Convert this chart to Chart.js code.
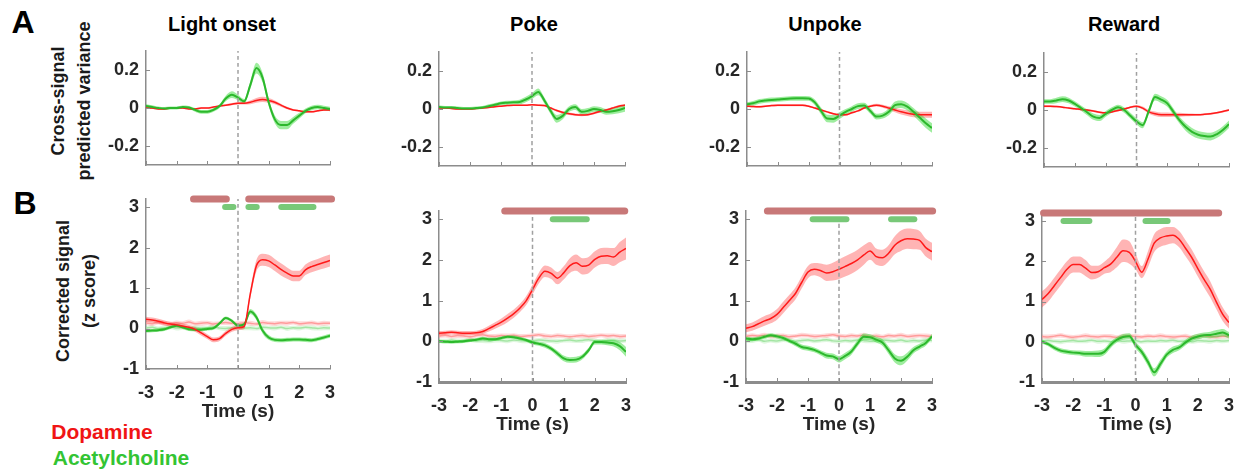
<!DOCTYPE html>
<html>
<head>
<meta charset="utf-8">
<script src="https://cdn.jsdelivr.net/npm/chart.js@4/dist/chart.umd.min.js"></script>
<style>
  body { margin: 0; background: #fff; width: 1244px; height: 470px; position: relative; overflow: hidden;
         font-family: "Liberation Sans", Arial, sans-serif; font-weight: bold; }
  canvas { position: absolute; }
  .lbl { position: absolute; white-space: nowrap; transform: translate(-50%, -50%); line-height: 1; }
  .ylab { position: absolute; white-space: nowrap; text-align: center; font-size: 18px; line-height: 26px;
          color: #1a1a1a; transform: translate(-50%, -50%) rotate(-90deg); }
</style>
</head>
<body>
<div class="lbl" style="left:23px;top:22px;font-size:32px">A</div>
<div class="lbl" style="left:25px;top:203px;font-size:32px">B</div>
<div class="lbl" style="left:222px;top:24px;font-size:20px">Light onset</div>
<div class="lbl" style="left:534px;top:24px;font-size:20px">Poke</div>
<div class="lbl" style="left:825px;top:24px;font-size:20px">Unpoke</div>
<div class="lbl" style="left:1124px;top:24px;font-size:20px">Reward</div>
<div class="ylab" style="left:71px;top:101px">Cross-signal<br>predicted variance</div>
<div class="ylab" style="left:76px;top:291px">Corrected signal<br>(z score)</div>
<div class="lbl" style="left:102px;top:431px;font-size:21px;color:#f01414">Dopamine</div>
<div class="lbl" style="left:121px;top:457px;font-size:21px;color:#33c433">Acetylcholine</div>

<script>
// time base (s), shared by every trace
const times = [-3, -2.8, -2.6, -2.4, -2.2, -2, -1.8, -1.6, -1.4, -1.2, -1, -0.8, -0.6, -0.4, -0.2, 0,
               0.2, 0.4, 0.6, 0.8, 1, 1.2, 1.4, 1.6, 1.8, 2, 2.2, 2.4, 2.6, 2.8, 3];

const timeTicks = [-3, -2, -1, 0, 1, 2, 3];
const varTicks = [-0.2, 0, 0.2];
const zTicks = [-1, 0, 1, 2, 3];

// row A: cross-signal predicted variance
const lightDaVar   = [0, 0, -0.005, -0.005, 0, 0, 0, -0.005, -0.005, 0, 0, 0.005, 0.01, 0.015, 0.02, 0.025, 0.025, 0.03, 0.04, 0.045, 0.04, 0.03, 0.015, 0, -0.01, -0.015, -0.02, -0.02, -0.015, -0.01, -0.01];
const lightDaVarSem = [0.004, 0.004, 0.004, 0.004, 0.004, 0.004, 0.004, 0.004, 0.004, 0.004, 0.004, 0.004, 0.005, 0.005, 0.006, 0.006, 0.007, 0.01, 0.013, 0.014, 0.013, 0.01, 0.008, 0.006, 0.005, 0.005, 0.005, 0.005, 0.005, 0.005, 0.005];
const lightAchVar  = [0.01, 0.005, 0, -0.003, 0, 0, 0.005, 0.003, -0.01, -0.02, -0.02, -0.01, 0.01, 0.05, 0.07, 0.055, 0.035, 0.12, 0.21, 0.16, 0.03, -0.06, -0.09, -0.09, -0.065, -0.04, -0.015, 0, 0.005, 0, -0.005];
const lightAchVarSem = [0.01, 0.01, 0.008, 0.008, 0.008, 0.008, 0.008, 0.008, 0.01, 0.01, 0.01, 0.01, 0.01, 0.015, 0.018, 0.015, 0.012, 0.02, 0.028, 0.025, 0.02, 0.02, 0.022, 0.022, 0.018, 0.015, 0.012, 0.012, 0.012, 0.012, 0.012];

const pokeDaVar    = [0.005, 0.005, 0.003, 0, 0, 0, 0.003, 0.005, 0.008, 0.012, 0.015, 0.018, 0.02, 0.02, 0.02, 0.022, 0.02, 0.018, 0.005, -0.008, -0.018, -0.025, -0.03, -0.032, -0.03, -0.022, -0.012, -0.005, 0.005, 0.015, 0.02];
const pokeDaVarSem = [0.004, 0.004, 0.004, 0.004, 0.004, 0.004, 0.004, 0.004, 0.004, 0.004, 0.004, 0.004, 0.004, 0.004, 0.004, 0.004, 0.004, 0.005, 0.005, 0.006, 0.006, 0.006, 0.006, 0.006, 0.006, 0.006, 0.006, 0.006, 0.006, 0.006, 0.006];
const pokeAchVar   = [0.01, 0.008, 0.008, 0.005, 0.003, 0.003, 0.005, 0.008, 0.015, 0.022, 0.03, 0.033, 0.035, 0.037, 0.05, 0.068, 0.09, 0.045, -0.01, -0.052, -0.035, 0, 0.01, -0.015, -0.01, 0, -0.005, -0.015, -0.012, -0.005, 0.005];
const pokeAchVarSem = [0.008, 0.008, 0.008, 0.008, 0.008, 0.008, 0.008, 0.008, 0.01, 0.01, 0.01, 0.01, 0.01, 0.012, 0.014, 0.016, 0.018, 0.016, 0.016, 0.02, 0.018, 0.015, 0.015, 0.015, 0.015, 0.015, 0.015, 0.015, 0.015, 0.018, 0.02];

const unpokeDaVar  = [0.015, 0.013, 0.012, 0.015, 0.018, 0.02, 0.02, 0.02, 0.02, 0.02, 0.015, 0.005, -0.005, -0.015, -0.025, -0.03, -0.03, -0.02, -0.01, 0.005, 0.015, 0.02, 0.015, 0.005, -0.005, -0.015, -0.022, -0.028, -0.03, -0.03, -0.03];
const unpokeDaVarSem = [0.005, 0.005, 0.005, 0.005, 0.005, 0.005, 0.005, 0.005, 0.005, 0.005, 0.005, 0.005, 0.005, 0.005, 0.005, 0.005, 0.005, 0.005, 0.005, 0.005, 0.006, 0.007, 0.008, 0.01, 0.012, 0.014, 0.015, 0.016, 0.016, 0.016, 0.016];
const unpokeAchVar = [0.025, 0.03, 0.04, 0.045, 0.048, 0.05, 0.053, 0.055, 0.056, 0.056, 0.055, 0.035, -0.01, -0.05, -0.052, -0.035, -0.015, 0, 0.015, 0.018, -0.01, -0.04, -0.035, -0.015, 0.02, 0.025, 0.012, -0.015, -0.045, -0.075, -0.1];
const unpokeAchVarSem = [0.01, 0.012, 0.012, 0.012, 0.012, 0.012, 0.012, 0.012, 0.012, 0.012, 0.012, 0.015, 0.018, 0.02, 0.02, 0.018, 0.015, 0.015, 0.015, 0.015, 0.015, 0.015, 0.015, 0.018, 0.02, 0.02, 0.02, 0.02, 0.022, 0.025, 0.025];

const rewardDaVar  = [0.02, 0.02, 0.018, 0.015, 0.01, 0.007, 0.003, 0, -0.005, -0.012, -0.015, -0.01, -0.003, 0.005, 0.015, 0.02, 0.01, -0.01, -0.02, -0.025, -0.025, -0.025, -0.025, -0.025, -0.025, -0.025, -0.023, -0.02, -0.015, -0.008, 0];
const rewardDaVarSem = [0.005, 0.005, 0.005, 0.005, 0.005, 0.005, 0.005, 0.005, 0.005, 0.005, 0.005, 0.005, 0.005, 0.005, 0.005, 0.005, 0.008, 0.01, 0.012, 0.012, 0.012, 0.01, 0.01, 0.008, 0.006, 0.005, 0.005, 0.005, 0.005, 0.005, 0.005];
const rewardAchVar = [0.045, 0.045, 0.05, 0.057, 0.05, 0.032, 0.01, -0.012, -0.035, -0.042, -0.02, 0, 0.014, 0, -0.03, -0.06, -0.08, -0.005, 0.068, 0.055, 0.035, -0.01, -0.055, -0.09, -0.115, -0.13, -0.137, -0.14, -0.128, -0.105, -0.075];
const rewardAchVarSem = [0.012, 0.012, 0.014, 0.015, 0.015, 0.014, 0.014, 0.015, 0.016, 0.016, 0.015, 0.014, 0.014, 0.014, 0.015, 0.016, 0.016, 0.016, 0.018, 0.018, 0.018, 0.018, 0.018, 0.02, 0.02, 0.02, 0.02, 0.02, 0.02, 0.02, 0.02];

// row B: corrected signal (z score)
const lightDa    = [0.23, 0.21, 0.18, 0.14, 0.11, 0.09, 0.06, 0.03, -0.02, -0.11, -0.2, -0.28, -0.25, -0.12, -0.02, 0.02, 0.05, 0.85, 1.55, 1.7, 1.67, 1.57, 1.46, 1.37, 1.3, 1.3, 1.45, 1.53, 1.58, 1.63, 1.68];
const lightDaSem = [0.06, 0.06, 0.06, 0.06, 0.06, 0.06, 0.06, 0.06, 0.06, 0.06, 0.06, 0.06, 0.06, 0.06, 0.06, 0.06, 0.07, 0.1, 0.14, 0.15, 0.15, 0.15, 0.15, 0.14, 0.13, 0.13, 0.13, 0.14, 0.14, 0.15, 0.15];
const lightAch   = [-0.06, -0.05, -0.04, -0.02, 0.03, 0.07, 0.03, -0.02, -0.03, -0.03, -0.01, 0.01, 0.13, 0.26, 0.19, 0.07, 0.1, 0.42, 0.28, -0.05, -0.22, -0.28, -0.29, -0.28, -0.27, -0.27, -0.28, -0.29, -0.26, -0.22, -0.18];
const lightAchSem = [0.04, 0.04, 0.04, 0.04, 0.04, 0.04, 0.04, 0.04, 0.04, 0.04, 0.04, 0.04, 0.04, 0.04, 0.04, 0.04, 0.05, 0.06, 0.07, 0.07, 0.06, 0.05, 0.05, 0.05, 0.05, 0.05, 0.05, 0.05, 0.05, 0.05, 0.05];

const pokeDa     = [0.2, 0.21, 0.22, 0.21, 0.2, 0.2, 0.21, 0.24, 0.31, 0.39, 0.47, 0.57, 0.68, 0.82, 1.0, 1.27, 1.55, 1.72, 1.67, 1.55, 1.68, 1.86, 1.93, 1.84, 1.87, 2.01, 2.09, 2.1, 2.07, 2.19, 2.28];
const pokeDaSem  = [0.05, 0.05, 0.05, 0.05, 0.05, 0.05, 0.05, 0.06, 0.07, 0.08, 0.09, 0.1, 0.1, 0.1, 0.11, 0.12, 0.13, 0.14, 0.14, 0.15, 0.16, 0.18, 0.2, 0.2, 0.2, 0.2, 0.2, 0.2, 0.22, 0.25, 0.27];
const pokeAch    = [0, -0.01, -0.02, -0.01, 0, 0.02, 0.04, 0.07, 0.05, 0.05, 0.08, 0.11, 0.1, 0.07, 0.03, -0.03, -0.06, -0.1, -0.18, -0.3, -0.42, -0.46, -0.45, -0.38, -0.22, -0.02, -0.02, -0.03, -0.05, -0.12, -0.26];
const pokeAchSem = [0.04, 0.04, 0.04, 0.04, 0.04, 0.04, 0.04, 0.04, 0.04, 0.04, 0.04, 0.04, 0.04, 0.04, 0.04, 0.05, 0.05, 0.06, 0.06, 0.07, 0.07, 0.07, 0.07, 0.06, 0.06, 0.06, 0.06, 0.07, 0.08, 0.1, 0.12];

const unpokeDa     = [0.32, 0.36, 0.43, 0.5, 0.56, 0.66, 0.83, 1.0, 1.18, 1.45, 1.7, 1.77, 1.74, 1.68, 1.71, 1.77, 1.84, 1.91, 2.0, 2.12, 2.22, 2.08, 2.05, 2.16, 2.36, 2.47, 2.52, 2.51, 2.48, 2.3, 2.2];
const unpokeDaSem  = [0.1, 0.1, 0.11, 0.12, 0.12, 0.13, 0.14, 0.14, 0.15, 0.15, 0.15, 0.15, 0.17, 0.2, 0.22, 0.24, 0.25, 0.25, 0.25, 0.24, 0.22, 0.2, 0.2, 0.2, 0.22, 0.25, 0.25, 0.25, 0.23, 0.22, 0.22];
const unpokeAch    = [0.07, 0.05, 0.07, 0.11, 0.15, 0.12, 0.08, 0.01, -0.06, -0.14, -0.17, -0.21, -0.28, -0.35, -0.37, -0.44, -0.36, -0.25, -0.05, 0.11, 0.1, 0.04, -0.03, -0.22, -0.42, -0.48, -0.38, -0.22, -0.13, -0.04, 0.12];
const unpokeAchSem = [0.05, 0.05, 0.05, 0.05, 0.05, 0.05, 0.05, 0.05, 0.06, 0.06, 0.06, 0.06, 0.06, 0.07, 0.07, 0.08, 0.08, 0.08, 0.08, 0.08, 0.07, 0.07, 0.08, 0.09, 0.1, 0.11, 0.1, 0.08, 0.07, 0.07, 0.06];

const rewardDa     = [1.05, 1.2, 1.4, 1.6, 1.8, 1.92, 1.92, 1.83, 1.72, 1.74, 1.84, 1.93, 2.1, 2.26, 2.22, 2.0, 1.73, 2.05, 2.45, 2.58, 2.63, 2.65, 2.55, 2.33, 2.1, 1.82, 1.55, 1.3, 0.98, 0.68, 0.48];
const rewardDaSem  = [0.2, 0.2, 0.2, 0.2, 0.2, 0.2, 0.2, 0.2, 0.17, 0.15, 0.15, 0.2, 0.25, 0.28, 0.28, 0.2, 0.15, 0.2, 0.22, 0.22, 0.22, 0.2, 0.2, 0.2, 0.2, 0.2, 0.2, 0.2, 0.18, 0.17, 0.15];
const rewardAch    = [0, -0.06, -0.15, -0.22, -0.25, -0.27, -0.28, -0.3, -0.3, -0.3, -0.25, -0.08, 0.05, 0.12, 0.14, -0.08, -0.25, -0.5, -0.76, -0.55, -0.32, -0.2, -0.14, -0.02, 0.08, 0.13, 0.16, 0.17, 0.2, 0.23, 0.16];
const rewardAchSem = [0.05, 0.05, 0.06, 0.06, 0.06, 0.06, 0.06, 0.07, 0.07, 0.08, 0.08, 0.08, 0.07, 0.07, 0.07, 0.08, 0.09, 0.1, 0.1, 0.1, 0.08, 0.08, 0.07, 0.07, 0.07, 0.07, 0.07, 0.08, 0.09, 0.09, 0.08];

// shuffled controls (pale traces)
const shufLightDa  = [0.14, 0.12, 0.15, 0.13, 0.11, 0.14, 0.13, 0.16, 0.12, 0.13, 0.14, 0.11, 0.13, 0.15, 0.13, 0.12, 0.14, 0.13, 0.11, 0.15, 0.13, 0.12, 0.14, 0.13, 0.15, 0.12, 0.13, 0.14, 0.12, 0.13, 0.13];
const shufLightAch = [0.01, 0.03, 0, 0.02, 0.04, 0.01, 0.02, 0, 0.03, 0.01, 0.02, 0.04, 0.01, 0, 0.02, 0.03, 0.01, 0.02, 0, 0.03, 0.02, 0.01, 0.03, 0, 0.02, 0.01, 0.03, 0.02, 0, 0.02, 0.01];
const shufPokeDa   = [0.13, 0.15, 0.12, 0.14, 0.13, 0.11, 0.14, 0.16, 0.13, 0.12, 0.14, 0.13, 0.15, 0.12, 0.13, 0.14, 0.16, 0.13, 0.12, 0.14, 0.13, 0.11, 0.13, 0.14, 0.12, 0.13, 0.15, 0.13, 0.14, 0.12, 0.13];
const shufPokeAch  = [0.02, 0, 0.03, 0.01, 0.02, 0.04, 0.01, 0.02, 0, 0.03, 0.02, 0.01, 0.03, 0.02, 0, 0.01, 0.03, 0.02, 0.01, 0, 0.02, 0.03, 0.01, 0.02, 0.04, 0.01, 0, 0.02, 0.03, 0.01, 0.02];
const shufUnpokeDa = [0.12, 0.14, 0.13, 0.15, 0.12, 0.13, 0.14, 0.11, 0.13, 0.15, 0.14, 0.12, 0.13, 0.14, 0.16, 0.13, 0.12, 0.14, 0.13, 0.15, 0.12, 0.13, 0.11, 0.14, 0.13, 0.15, 0.12, 0.13, 0.14, 0.13, 0.12];
const shufUnpokeAch = [0.01, 0.02, 0.04, 0, 0.02, 0.01, 0.03, 0.02, 0, 0.02, 0.03, 0.01, 0.02, 0.04, 0.01, 0, 0.02, 0.01, 0.03, 0.02, 0, 0.01, 0.03, 0.02, 0.01, 0.03, 0, 0.02, 0.01, 0.03, 0.02];
const shufRewardDa = [0.13, 0.12, 0.14, 0.16, 0.13, 0.11, 0.13, 0.15, 0.13, 0.12, 0.14, 0.13, 0.11, 0.14, 0.15, 0.13, 0.12, 0.14, 0.13, 0.15, 0.13, 0.12, 0.13, 0.14, 0.11, 0.13, 0.15, 0.13, 0.12, 0.14, 0.13];
const shufRewardAch = [0.02, 0.03, 0.01, 0, 0.02, 0.03, 0.01, 0.02, 0.04, 0.01, 0.02, 0, 0.03, 0.01, 0.02, 0.03, 0, 0.02, 0.01, 0.03, 0.02, 0.04, 0.01, 0.02, 0, 0.03, 0.02, 0.01, 0.03, 0.02, 0.03];
const shufSem = [0.05, 0.06, 0.05, 0.06, 0.05, 0.06, 0.05, 0.06, 0.05, 0.06, 0.05, 0.06, 0.05, 0.06, 0.05, 0.06, 0.05, 0.06, 0.05, 0.06, 0.05, 0.06, 0.05, 0.06, 0.05, 0.06, 0.05, 0.06, 0.05, 0.06, 0.05];

// significance bars: [start, end] in s
const lightDaSig = [[-1.45, -0.38], [0.35, 3.05]];
const lightAchSig = [[-0.42, -0.15], [0.34, 0.61], [1.41, 2.46]];
const pokeDaSig = [[-0.89, 2.96]];
const pokeAchSig = [[0.65, 1.74]];
const unpokeDaSig = [[-2.31, 3.02]];
const unpokeAchSig = [[-0.85, 0.24], [1.68, 2.43]];
const rewardDaSig = [[-2.95, 2.67]];
const rewardAchSig = [[-2.31, -1.48], [0.32, 1.03]];

const FONT = '"Liberation Sans", Arial, sans-serif';
const TXT = '#262626';
const AXIS = '#8c8c8c';
const RED = '#ff1a1a', RED_BAND = 'rgba(255,40,40,0.35)';
const GREEN = '#2cb82c', GREEN_BAND = 'rgba(40,215,40,0.45)';

function pts(vals) { return times.map((t, i) => ({ x: t, y: vals[i] })); }
function edge(vals, sem, k) { return times.map((t, i) => ({ x: t, y: vals[i] + k * sem[i] })); }

function trace(vals, sem, col, band, width, bandOrder, lineOrder) {
  return [
    { data: edge(vals, sem, 1), borderWidth: 0, fill: false, order: bandOrder },
    { data: edge(vals, sem, -1), borderWidth: 0, fill: '-1', backgroundColor: band, order: bandOrder },
    { data: pts(vals), borderColor: col, borderWidth: width, fill: false, order: lineOrder }
  ];
}

function sigBars(ranges, yv, col, width) {
  return ranges.map(r => ({
    data: [{ x: r[0], y: yv }, { x: r[1], y: yv }],
    borderColor: col, borderWidth: width, borderCapStyle: 'round', fill: false, clip: false, order: 0
  }));
}

// little inward tick marks, matlab style
const innerTicks = {
  id: 'innerTicks',
  afterDatasetsDraw(chart) {
    const { ctx, chartArea: a, scales: { x, y } } = chart;
    ctx.save();
    ctx.strokeStyle = AXIS;
    ctx.lineWidth = 1;
    ctx.beginPath();
    timeTicks.forEach(v => {
      const px = Math.round(x.getPixelForValue(v)) + 0.5;
      ctx.moveTo(px, a.bottom); ctx.lineTo(px, a.bottom - 4);
    });
    y.ticks.forEach(t => {
      const py = Math.round(y.getPixelForValue(t.value)) + 0.5;
      ctx.moveTo(a.left, py); ctx.lineTo(a.left + 4, py);
    });
    ctx.stroke();
    ctx.restore();
  }
};

const panels = [
  { row: 'A', box: [146, 51, 330, 165], da: lightDaVar, daSem: lightDaVarSem, ach: lightAchVar, achSem: lightAchVarSem },
  { row: 'A', box: [439, 52, 625, 166], da: pokeDaVar, daSem: pokeDaVarSem, ach: pokeAchVar, achSem: pokeAchVarSem },
  { row: 'A', box: [747, 52, 932, 166], da: unpokeDaVar, daSem: unpokeDaVarSem, ach: unpokeAchVar, achSem: unpokeAchVarSem },
  { row: 'A', box: [1044, 53, 1229, 167], da: rewardDaVar, daSem: rewardDaVarSem, ach: rewardAchVar, achSem: rewardAchVarSem },
  { row: 'B', box: [146, 199, 330, 369], thinAxis: true, da: lightDa, daSem: lightDaSem, ach: lightAch, achSem: lightAchSem,
    sDa: shufLightDa, sAch: shufLightAch, daSig: lightDaSig, achSig: lightAchSig },
  { row: 'B', box: [439, 211, 626, 382], da: pokeDa, daSem: pokeDaSem, ach: pokeAch, achSem: pokeAchSem,
    sDa: shufPokeDa, sAch: shufPokeAch, daSig: pokeDaSig, achSig: pokeAchSig },
  { row: 'B', box: [746, 211, 932, 382], da: unpokeDa, daSem: unpokeDaSem, ach: unpokeAch, achSem: unpokeAchSem,
    sDa: shufUnpokeDa, sAch: shufUnpokeAch, daSig: unpokeDaSig, achSig: unpokeAchSig },
  { row: 'B', box: [1042, 213, 1229, 382], da: rewardDa, daSem: rewardDaSem, ach: rewardAch, achSem: rewardAchSem,
    sDa: shufRewardDa, sAch: shufRewardAch, daSig: rewardDaSig, achSig: rewardAchSig }
];

panels.forEach(p => {
  const [l, t, r, b] = p.box;
  const rowB = p.row === 'B';
  const yw = 60, pt = 24, pr = 20, xh = rowB ? 54 : 4, pb = rowB ? 0 : 20;
  const ymin = rowB ? -1 : -0.3, ymax = rowB ? 3.2 : 0.3;

  const cv = document.createElement('canvas');
  cv.width = yw + (r - l) + pr;
  cv.height = pt + (b - t) + xh + pb;
  cv.style.left = (l - yw) + 'px';
  cv.style.top = (t - pt) + 'px';
  document.body.appendChild(cv);

  let datasets = [];
  if (rowB) {
    datasets = datasets
      .concat(trace(p.sDa, shufSem, 'rgba(255,140,140,0.8)', 'rgba(255,110,110,0.25)', 1.5, 30, 28))
      .concat(trace(p.sAch, shufSem, 'rgba(150,225,150,0.8)', 'rgba(110,220,110,0.22)', 1.5, 30, 28))
      .concat(trace(p.ach, p.achSem, GREEN, GREEN_BAND, 2, 22, 12))
      .concat(trace(p.da, p.daSem, RED, RED_BAND, 1.5, 21, 11))
      .concat(sigBars(p.daSig, 3.2, '#c87878', 7))
      .concat(sigBars(p.achSig, 3.0, '#78c878', 6));
  } else {
    datasets = datasets
      .concat(trace(p.da, p.daSem, RED, RED_BAND, 1.5, 22, 12))
      .concat(trace(p.ach, p.achSem, GREEN, GREEN_BAND, 2, 21, 11));
  }
  datasets.push({
    data: [{ x: 0, y: ymin }, { x: 0, y: ymax }],
    borderColor: '#a0a0a0', borderWidth: 1.5, borderDash: [4, 3], fill: false, order: 1
  });

  new Chart(cv, {
    type: 'line',
    data: { datasets },
    options: {
      responsive: false,
      animation: false,
      events: [],
      layout: { padding: { top: pt, right: pr, bottom: pb, left: 0 } },
      plugins: { legend: { display: false }, tooltip: { enabled: false } },
      elements: { point: { radius: 0 }, line: { cubicInterpolationMode: 'monotone' } },
      scales: {
        x: {
          type: 'linear', min: -3, max: 3,
          afterBuildTicks: s => { s.ticks = timeTicks.map(v => ({ value: v })); },
          afterFit: s => { s.height = xh; },
          grid: { display: false, drawTicks: false },
          border: { color: AXIS, width: (rowB && !p.thinAxis) ? 3 : 1.5 },
          ticks: { display: rowB, autoSkip: false, maxRotation: 0, padding: 13, color: TXT,
                   font: { family: FONT, size: 18, weight: 'bold' }, callback: v => String(v) },
          title: { display: rowB, text: 'Time (s)', color: TXT, padding: 0,
                   font: { family: FONT, size: 19, weight: 'bold' } }
        },
        y: {
          type: 'linear', min: ymin, max: ymax,
          afterBuildTicks: s => { s.ticks = (rowB ? zTicks : varTicks).map(v => ({ value: v })); },
          afterFit: s => { s.width = yw; },
          grid: { display: false, drawTicks: false },
          border: { color: AXIS, width: 1.5 },
          ticks: { padding: 7, color: TXT, font: { family: FONT, size: 18, weight: 'bold' },
                   callback: v => String(v) }
        }
      }
    },
    plugins: [innerTicks]
  });
});
</script>
</body>
</html>
